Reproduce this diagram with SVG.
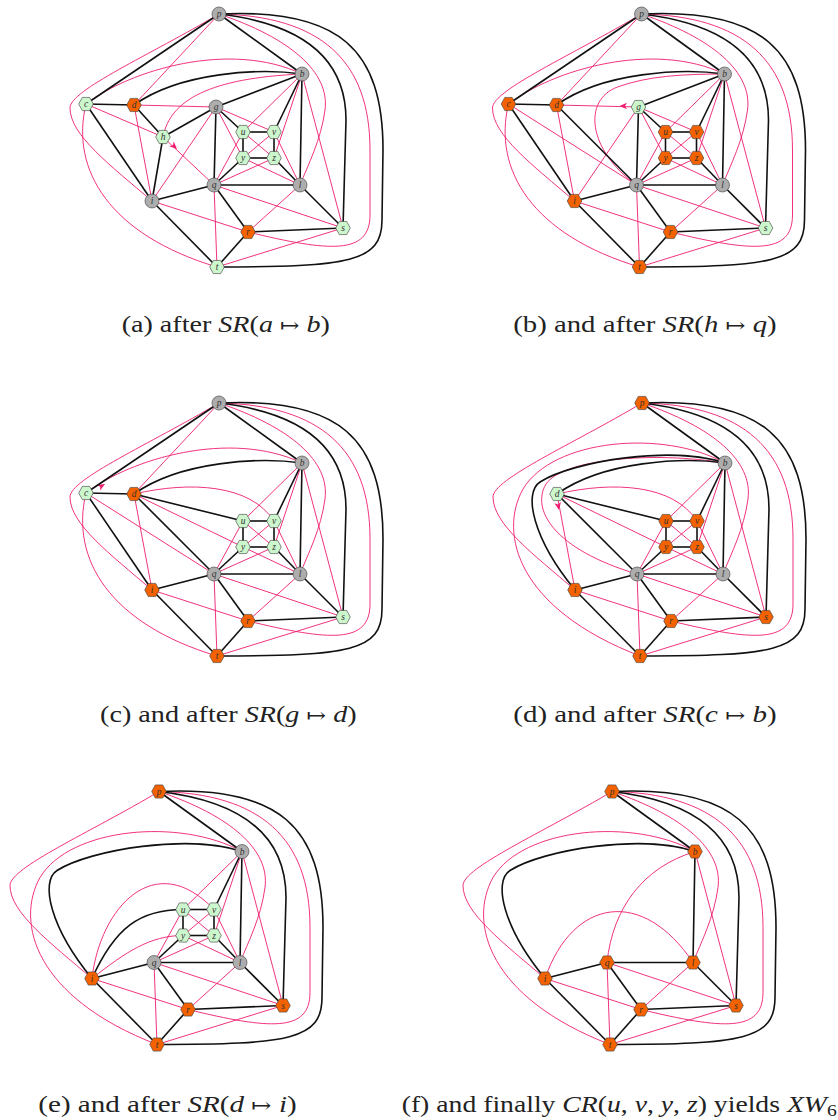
<svg xmlns="http://www.w3.org/2000/svg" xmlns:xlink="http://www.w3.org/1999/xlink" width="838" height="1120" viewBox="0 0 838 1120">
<style>
.k{fill:none;stroke:#111;stroke-width:1.6}
.m{fill:none;stroke:#ef1c6f;stroke-width:0.9}
.gr{fill:#adadad;stroke:#3a3a3a;stroke-width:0.6}
.gn{fill:#ccf6cc;stroke:#3a3a3a;stroke-width:0.6}
.or{fill:#f46200;stroke:#3a3a3a;stroke-width:0.6}
.lb{font-family:"Liberation Serif",serif;font-style:italic;font-size:9.5px;fill:#333;text-anchor:middle}
.ah{fill:#ef1c6f}
.cap{font-family:"Liberation Serif",serif;font-size:24px;fill:#222}
.it{font-style:italic}
.sy{font-family:"DejaVu Serif",serif;font-size:20px}
</style>
<defs>
<polygon id="hx" points="-7.3,0 -3.7,-6.6 3.7,-6.6 7.3,0 3.7,6.6 -3.7,6.6"/>
<path id="ar" d="M0,0L-7.5,-3.3L-5.5,0L-7.5,3.3Z"/>
</defs>
<rect width="838" height="1120" fill="#fff"/>

<!-- Panel (a) -->
<g id="panel-a">
<g id="a-edges">
<path class="m" d="M219,14L134,105"/>
<path class="m" d="M219,14C150,55 70,90 70,108C70,135 110,165 152,201"/>
<path class="m" d="M219,14C320,16 370,60 370,150L370,215C370,255 330,252 248,232"/>
<path class="m" d="M219,14C290,38 330,72 325,110C321,140 308,165 300,185"/>
<path class="m" d="M86,104C130,70 230,40 302,74"/>
<path class="m" d="M86,104L163,137"/>
<path class="m" d="M86,104C70,170 110,235 217,267"/>
<path class="m" d="M163,137C170,100 210,78 302,74"/>
<path class="m" d="M163,137L214,185"/>
<path class="m" d="M134,105L216,107"/>
<path class="m" d="M134,105L152,201"/>
<path class="m" d="M216,107L152,201"/>
<path class="m" d="M216,107L274,132"/>
<path class="m" d="M216,107L243,158"/>
<path class="m" d="M302,74L243,132"/>
<path class="m" d="M302,74L274,158"/>
<path class="m" d="M302,74L343,228"/>
<path class="m" d="M243,132L274,158"/>
<path class="m" d="M274,132L243,158"/>
<path class="m" d="M243,158L300,185"/>
<path class="m" d="M274,132L300,185"/>
<path class="m" d="M243,132L214,185"/>
<path class="m" d="M274,158L214,185"/>
<path class="m" d="M214,185L343,228"/>
<path class="m" d="M214,185L217,267"/>
<path class="m" d="M152,201L248,232"/>
<path class="m" d="M300,185L248,232"/>
<path class="m" d="M217,267L343,228"/>
<use xlink:href="#ar" href="#ar" class="ah" transform="translate(177,149) rotate(43)"/>
<path class="k" d="M219,14L86,104"/>
<path class="k" d="M219,14L302,74"/>
<path class="k" d="M219,14C305,24 346,60 346,120L343,228"/>
<path class="k" d="M219,14C340,8 383,50 383,150L382,220C382,262 350,267 217,267"/>
<path class="k" d="M302,74C260,68 180,72 134,105"/>
<path class="k" d="M302,74L216,107"/>
<path class="k" d="M302,74L274,132"/>
<path class="k" d="M302,74L300,185"/>
<path class="k" d="M86,104L134,105"/>
<path class="k" d="M86,104L152,201"/>
<path class="k" d="M134,105L163,137"/>
<path class="k" d="M216,107L163,137"/>
<path class="k" d="M163,137L152,201"/>
<path class="k" d="M216,107L214,185"/>
<path class="k" d="M216,107L243,132"/>
<path class="k" d="M243,132L274,132"/>
<path class="k" d="M243,132L243,158"/>
<path class="k" d="M274,132L274,158"/>
<path class="k" d="M243,158L274,158"/>
<path class="k" d="M243,158L214,185"/>
<path class="k" d="M274,158L300,185"/>
<path class="k" d="M214,185L300,185"/>
<path class="k" d="M214,185L152,201"/>
<path class="k" d="M214,185L248,232"/>
<path class="k" d="M152,201L217,267"/>
<path class="k" d="M248,232L217,267"/>
<path class="k" d="M248,232L343,228"/>
<path class="k" d="M300,185L343,228"/>
</g>
<g id="a-p"><circle class="gr" cx="219" cy="14" r="7"/><text class="lb" x="219" y="17">p</text></g>
<g id="a-b"><circle class="gr" cx="302" cy="74" r="7"/><text class="lb" x="302" y="77">b</text></g>
<g id="a-c"><use href="#hx" xlink:href="#hx" class="gn" x="86" y="104"/><text class="lb" x="86" y="107">c</text></g>
<g id="a-d"><use href="#hx" xlink:href="#hx" class="or" x="134" y="105"/><text class="lb" x="134" y="108">d</text></g>
<g id="a-g"><circle class="gr" cx="216" cy="107" r="7"/><text class="lb" x="216" y="110">g</text></g>
<g id="a-h"><use href="#hx" xlink:href="#hx" class="gn" x="163" y="137"/><text class="lb" x="163" y="140">h</text></g>
<g id="a-u"><use href="#hx" xlink:href="#hx" class="gn" x="243" y="132"/><text class="lb" x="243" y="135">u</text></g>
<g id="a-v"><use href="#hx" xlink:href="#hx" class="gn" x="274" y="132"/><text class="lb" x="274" y="135">v</text></g>
<g id="a-y"><use href="#hx" xlink:href="#hx" class="gn" x="243" y="158"/><text class="lb" x="243" y="161">y</text></g>
<g id="a-z"><use href="#hx" xlink:href="#hx" class="gn" x="274" y="158"/><text class="lb" x="274" y="161">z</text></g>
<g id="a-q"><circle class="gr" cx="214" cy="185" r="7"/><text class="lb" x="214" y="188">q</text></g>
<g id="a-l"><circle class="gr" cx="300" cy="185" r="7"/><text class="lb" x="300" y="188">l</text></g>
<g id="a-i"><circle class="gr" cx="152" cy="201" r="7"/><text class="lb" x="152" y="204">i</text></g>
<g id="a-r"><use href="#hx" xlink:href="#hx" class="or" x="248" y="232"/><text class="lb" x="248" y="235">r</text></g>
<g id="a-s"><use href="#hx" xlink:href="#hx" class="gn" x="343" y="228"/><text class="lb" x="343" y="231">s</text></g>
<g id="a-t"><use href="#hx" xlink:href="#hx" class="gn" x="217" y="267"/><text class="lb" x="217" y="270">t</text></g>
</g>

<!-- Panel (b) -->
<g id="panel-b" transform="translate(422.5,0)">
<g id="b-edges">
<path class="m" d="M219,14L134,105"/>
<path class="m" d="M219,14C150,55 70,90 70,108C70,135 110,165 152,201"/>
<path class="m" d="M219,14C320,16 370,60 370,150L370,215C370,255 330,252 248,232"/>
<path class="m" d="M219,14C290,38 330,72 325,110C321,140 308,165 300,185"/>
<path class="m" d="M86,104C130,70 230,40 302,74"/>
<path class="m" d="M86,104L214,185"/>
<path class="m" d="M86,104C70,170 110,235 217,267"/>
<path class="m" d="M214,185C165,150 160,100 195,87C225,76 260,74 302,74"/>
<path class="m" d="M134,105L216,107"/>
<path class="m" d="M134,105L152,201"/>
<path class="m" d="M216,107L152,201"/>
<path class="m" d="M216,107L274,132"/>
<path class="m" d="M216,107L243,158"/>
<path class="m" d="M302,74L243,132"/>
<path class="m" d="M302,74L274,158"/>
<path class="m" d="M302,74L343,228"/>
<path class="m" d="M243,132L274,158"/>
<path class="m" d="M274,132L243,158"/>
<path class="m" d="M243,158L300,185"/>
<path class="m" d="M274,132L300,185"/>
<path class="m" d="M243,132L214,185"/>
<path class="m" d="M274,158L214,185"/>
<path class="m" d="M214,185L343,228"/>
<path class="m" d="M214,185L217,267"/>
<path class="m" d="M152,201L248,232"/>
<path class="m" d="M300,185L248,232"/>
<path class="m" d="M217,267L343,228"/>
<use href="#ar" xlink:href="#ar" class="ah" transform="translate(197,106) rotate(180)"/>
<path class="k" d="M219,14L86,104"/>
<path class="k" d="M219,14L302,74"/>
<path class="k" d="M219,14C305,24 346,60 346,120L343,228"/>
<path class="k" d="M219,14C340,8 383,50 383,150L382,220C382,262 350,267 217,267"/>
<path class="k" d="M302,74C260,68 180,72 134,105"/>
<path class="k" d="M302,74L216,107"/>
<path class="k" d="M302,74L274,132"/>
<path class="k" d="M302,74L300,185"/>
<path class="k" d="M86,104L134,105"/>
<path class="k" d="M86,104L152,201"/>
<path class="k" d="M134,105L214,185"/>
<path class="k" d="M216,107L214,185"/>
<path class="k" d="M216,107L243,132"/>
<path class="k" d="M243,132L274,132"/>
<path class="k" d="M243,132L243,158"/>
<path class="k" d="M274,132L274,158"/>
<path class="k" d="M243,158L274,158"/>
<path class="k" d="M243,158L214,185"/>
<path class="k" d="M274,158L300,185"/>
<path class="k" d="M214,185L300,185"/>
<path class="k" d="M214,185L152,201"/>
<path class="k" d="M214,185L248,232"/>
<path class="k" d="M152,201L217,267"/>
<path class="k" d="M248,232L217,267"/>
<path class="k" d="M248,232L343,228"/>
<path class="k" d="M300,185L343,228"/>
</g>
<g id="b-p"><circle class="gr" cx="219" cy="14" r="7"/><text class="lb" x="219" y="17">p</text></g>
<g id="b-b"><circle class="gr" cx="302" cy="74" r="7"/><text class="lb" x="302" y="77">b</text></g>
<g id="b-c"><use href="#hx" xlink:href="#hx" class="or" x="86" y="104"/><text class="lb" x="86" y="107">c</text></g>
<g id="b-d"><use href="#hx" xlink:href="#hx" class="or" x="134" y="105"/><text class="lb" x="134" y="108">d</text></g>
<g id="b-g"><use href="#hx" xlink:href="#hx" class="gn" x="216" y="107"/><text class="lb" x="216" y="110">g</text></g>
<g id="b-u"><use href="#hx" xlink:href="#hx" class="or" x="243" y="132"/><text class="lb" x="243" y="135">u</text></g>
<g id="b-v"><use href="#hx" xlink:href="#hx" class="or" x="274" y="132"/><text class="lb" x="274" y="135">v</text></g>
<g id="b-y"><use href="#hx" xlink:href="#hx" class="or" x="243" y="158"/><text class="lb" x="243" y="161">y</text></g>
<g id="b-z"><use href="#hx" xlink:href="#hx" class="or" x="274" y="158"/><text class="lb" x="274" y="161">z</text></g>
<g id="b-q"><circle class="gr" cx="214" cy="185" r="7"/><text class="lb" x="214" y="188">q</text></g>
<g id="b-l"><circle class="gr" cx="300" cy="185" r="7"/><text class="lb" x="300" y="188">l</text></g>
<g id="b-i"><use href="#hx" xlink:href="#hx" class="or" x="152" y="201"/><text class="lb" x="152" y="204">i</text></g>
<g id="b-r"><use href="#hx" xlink:href="#hx" class="or" x="248" y="232"/><text class="lb" x="248" y="235">r</text></g>
<g id="b-s"><use href="#hx" xlink:href="#hx" class="gn" x="343" y="228"/><text class="lb" x="343" y="231">s</text></g>
<g id="b-t"><use href="#hx" xlink:href="#hx" class="or" x="217" y="267"/><text class="lb" x="217" y="270">t</text></g>
</g>

<!-- Panel (c) -->
<g id="panel-c" transform="translate(0,389)">
<g id="c-edges">
<path class="m" d="M219,14L134,105"/>
<path class="m" d="M219,14C150,55 70,90 70,108C70,135 110,165 152,201"/>
<path class="m" d="M219,14C320,16 370,60 370,150L370,215C370,255 330,252 248,232"/>
<path class="m" d="M219,14C290,38 330,72 325,110C321,140 308,165 300,185"/>
<path class="m" d="M86,104C130,70 230,40 302,74"/>
<path class="m" d="M86,104L214,185"/>
<path class="m" d="M86,104C70,170 110,235 217,267"/>
<path class="m" d="M134,105L152,201"/>
<path class="m" d="M134,105C190,92 250,95 274,132"/>
<path class="m" d="M134,105L243,158"/>
<path class="m" d="M302,74L243,132"/>
<path class="m" d="M302,74L274,158"/>
<path class="m" d="M302,74L343,228"/>
<path class="m" d="M243,132L274,158"/>
<path class="m" d="M274,132L243,158"/>
<path class="m" d="M243,158L300,185"/>
<path class="m" d="M274,132L300,185"/>
<path class="m" d="M243,132L214,185"/>
<path class="m" d="M274,158L214,185"/>
<path class="m" d="M214,185L343,228"/>
<path class="m" d="M214,185L217,267"/>
<path class="m" d="M152,201L248,232"/>
<path class="m" d="M300,185L248,232"/>
<path class="m" d="M217,267L343,228"/>
<use href="#ar" xlink:href="#ar" class="ah" transform="translate(105,95) rotate(-30)"/>
<path class="k" d="M219,14L86,104"/>
<path class="k" d="M219,14L302,74"/>
<path class="k" d="M219,14C305,24 346,60 346,120L343,228"/>
<path class="k" d="M219,14C340,8 383,50 383,150L382,220C382,262 350,267 217,267"/>
<path class="k" d="M302,74C260,68 180,72 134,105"/>
<path class="k" d="M302,74L274,132"/>
<path class="k" d="M302,74L300,185"/>
<path class="k" d="M86,104L134,105"/>
<path class="k" d="M86,104L152,201"/>
<path class="k" d="M134,105L214,185"/>
<path class="k" d="M134,105L243,132"/>
<path class="k" d="M243,132L274,132"/>
<path class="k" d="M243,132L243,158"/>
<path class="k" d="M274,132L274,158"/>
<path class="k" d="M243,158L274,158"/>
<path class="k" d="M243,158L214,185"/>
<path class="k" d="M274,158L300,185"/>
<path class="k" d="M214,185L300,185"/>
<path class="k" d="M214,185L152,201"/>
<path class="k" d="M214,185L248,232"/>
<path class="k" d="M152,201L217,267"/>
<path class="k" d="M248,232L217,267"/>
<path class="k" d="M248,232L343,228"/>
<path class="k" d="M300,185L343,228"/>
</g>
<g id="c-p"><circle class="gr" cx="219" cy="14" r="7"/><text class="lb" x="219" y="17">p</text></g>
<g id="c-b"><circle class="gr" cx="302" cy="74" r="7"/><text class="lb" x="302" y="77">b</text></g>
<g id="c-c"><use href="#hx" xlink:href="#hx" class="gn" x="86" y="104"/><text class="lb" x="86" y="107">c</text></g>
<g id="c-d"><use href="#hx" xlink:href="#hx" class="or" x="134" y="105"/><text class="lb" x="134" y="108">d</text></g>
<g id="c-u"><use href="#hx" xlink:href="#hx" class="gn" x="243" y="132"/><text class="lb" x="243" y="135">u</text></g>
<g id="c-v"><use href="#hx" xlink:href="#hx" class="gn" x="274" y="132"/><text class="lb" x="274" y="135">v</text></g>
<g id="c-y"><use href="#hx" xlink:href="#hx" class="gn" x="243" y="158"/><text class="lb" x="243" y="161">y</text></g>
<g id="c-z"><use href="#hx" xlink:href="#hx" class="gn" x="274" y="158"/><text class="lb" x="274" y="161">z</text></g>
<g id="c-q"><circle class="gr" cx="214" cy="185" r="7"/><text class="lb" x="214" y="188">q</text></g>
<g id="c-l"><circle class="gr" cx="300" cy="185" r="7"/><text class="lb" x="300" y="188">l</text></g>
<g id="c-i"><use href="#hx" xlink:href="#hx" class="or" x="152" y="201"/><text class="lb" x="152" y="204">i</text></g>
<g id="c-r"><use href="#hx" xlink:href="#hx" class="or" x="248" y="232"/><text class="lb" x="248" y="235">r</text></g>
<g id="c-s"><use href="#hx" xlink:href="#hx" class="gn" x="343" y="228"/><text class="lb" x="343" y="231">s</text></g>
<g id="c-t"><use href="#hx" xlink:href="#hx" class="or" x="217" y="267"/><text class="lb" x="217" y="270">t</text></g>
</g>

<!-- Panel (d) -->
<g id="panel-d" transform="translate(423,389)">
<g id="d-edges">
<path class="m" d="M219,14C150,55 70,90 70,108C70,135 110,165 152,201"/>
<path class="m" d="M219,14C320,16 370,60 370,150L370,215C370,255 330,252 248,232"/>
<path class="m" d="M219,14C290,38 330,72 325,110C321,140 308,165 300,185"/>
<path class="m" d="M302,74C240,40 130,50 100,100C75,145 95,220 217,267"/>
<path class="m" d="M302,74C230,62 140,70 123,95C108,120 130,160 214,185"/>
<path class="m" d="M134,105L152,201"/>
<path class="m" d="M134,105C190,92 250,95 274,132"/>
<path class="m" d="M134,105L243,158"/>
<path class="m" d="M302,74L243,132"/>
<path class="m" d="M302,74L274,158"/>
<path class="m" d="M302,74L343,228"/>
<path class="m" d="M243,132L274,158"/>
<path class="m" d="M274,132L243,158"/>
<path class="m" d="M243,158L300,185"/>
<path class="m" d="M274,132L300,185"/>
<path class="m" d="M243,132L214,185"/>
<path class="m" d="M274,158L214,185"/>
<path class="m" d="M214,185L343,228"/>
<path class="m" d="M214,185L217,267"/>
<path class="m" d="M152,201L248,232"/>
<path class="m" d="M300,185L248,232"/>
<path class="m" d="M217,267L343,228"/>
<use href="#ar" xlink:href="#ar" class="ah" transform="translate(136,121) rotate(80)"/>
<path class="k" d="M219,14L302,74"/>
<path class="k" d="M219,14C305,24 346,60 346,120L343,228"/>
<path class="k" d="M219,14C340,8 383,50 383,150L382,220C382,262 350,267 217,267"/>
<path class="k" d="M302,74C260,68 180,72 134,105"/>
<path class="k" d="M302,74C250,56 150,72 117,93C100,104 110,150 152,201"/>
<path class="k" d="M302,74L274,132"/>
<path class="k" d="M302,74L300,185"/>
<path class="k" d="M134,105L214,185"/>
<path class="k" d="M134,105L243,132"/>
<path class="k" d="M243,132L274,132"/>
<path class="k" d="M243,132L243,158"/>
<path class="k" d="M274,132L274,158"/>
<path class="k" d="M243,158L274,158"/>
<path class="k" d="M243,158L214,185"/>
<path class="k" d="M274,158L300,185"/>
<path class="k" d="M214,185L300,185"/>
<path class="k" d="M214,185L152,201"/>
<path class="k" d="M214,185L248,232"/>
<path class="k" d="M152,201L217,267"/>
<path class="k" d="M248,232L217,267"/>
<path class="k" d="M248,232L343,228"/>
<path class="k" d="M300,185L343,228"/>
</g>
<g id="d-p"><use href="#hx" xlink:href="#hx" class="or" x="219" y="14"/><text class="lb" x="219" y="17">p</text></g>
<g id="d-b"><circle class="gr" cx="302" cy="74" r="7"/><text class="lb" x="302" y="77">b</text></g>
<g id="d-d"><use href="#hx" xlink:href="#hx" class="gn" x="134" y="105"/><text class="lb" x="134" y="108">d</text></g>
<g id="d-u"><use href="#hx" xlink:href="#hx" class="or" x="243" y="132"/><text class="lb" x="243" y="135">u</text></g>
<g id="d-v"><use href="#hx" xlink:href="#hx" class="or" x="274" y="132"/><text class="lb" x="274" y="135">v</text></g>
<g id="d-y"><use href="#hx" xlink:href="#hx" class="or" x="243" y="158"/><text class="lb" x="243" y="161">y</text></g>
<g id="d-z"><use href="#hx" xlink:href="#hx" class="or" x="274" y="158"/><text class="lb" x="274" y="161">z</text></g>
<g id="d-q"><circle class="gr" cx="214" cy="185" r="7"/><text class="lb" x="214" y="188">q</text></g>
<g id="d-l"><circle class="gr" cx="300" cy="185" r="7"/><text class="lb" x="300" y="188">l</text></g>
<g id="d-i"><use href="#hx" xlink:href="#hx" class="or" x="152" y="201"/><text class="lb" x="152" y="204">i</text></g>
<g id="d-r"><use href="#hx" xlink:href="#hx" class="or" x="248" y="232"/><text class="lb" x="248" y="235">r</text></g>
<g id="d-s"><use href="#hx" xlink:href="#hx" class="or" x="343" y="228"/><text class="lb" x="343" y="231">s</text></g>
<g id="d-t"><use href="#hx" xlink:href="#hx" class="or" x="217" y="267"/><text class="lb" x="217" y="270">t</text></g>
</g>

<!-- Panel (e) -->
<g id="panel-e" transform="translate(-60,777.5)">
<g id="e-edges">
<path class="m" d="M219,14C150,55 70,90 70,108C70,135 110,165 152,201"/>
<path class="m" d="M219,14C320,16 370,60 370,150L370,215C370,255 330,252 248,232"/>
<path class="m" d="M219,14C290,38 330,72 325,110C321,140 308,165 300,185"/>
<path class="m" d="M302,74C240,40 130,50 100,100C75,145 95,220 217,267"/>
<path class="m" d="M152,201C160,130 215,70 274,132"/>
<path class="m" d="M152,201C185,175 210,158 243,158"/>
<path class="m" d="M302,74L243,132"/>
<path class="m" d="M302,74L274,158"/>
<path class="m" d="M302,74L343,228"/>
<path class="m" d="M243,132L274,158"/>
<path class="m" d="M274,132L243,158"/>
<path class="m" d="M243,158L300,185"/>
<path class="m" d="M274,132L300,185"/>
<path class="m" d="M243,132L214,185"/>
<path class="m" d="M274,158L214,185"/>
<path class="m" d="M214,185L343,228"/>
<path class="m" d="M214,185L217,267"/>
<path class="m" d="M152,201L248,232"/>
<path class="m" d="M300,185L248,232"/>
<path class="m" d="M217,267L343,228"/>
<path class="k" d="M219,14L302,74"/>
<path class="k" d="M219,14C305,24 346,60 346,120L343,228"/>
<path class="k" d="M219,14C340,8 383,50 383,150L382,220C382,262 350,267 217,267"/>
<path class="k" d="M302,74C250,56 150,72 117,93C100,104 110,150 152,201"/>
<path class="k" d="M302,74L274,132"/>
<path class="k" d="M302,74L300,185"/>
<path class="k" d="M152,201C175,150 200,132 243,132"/>
<path class="k" d="M243,132L274,132"/>
<path class="k" d="M243,132L243,158"/>
<path class="k" d="M274,132L274,158"/>
<path class="k" d="M243,158L274,158"/>
<path class="k" d="M243,158L214,185"/>
<path class="k" d="M274,158L300,185"/>
<path class="k" d="M214,185L300,185"/>
<path class="k" d="M214,185L152,201"/>
<path class="k" d="M214,185L248,232"/>
<path class="k" d="M152,201L217,267"/>
<path class="k" d="M248,232L217,267"/>
<path class="k" d="M248,232L343,228"/>
<path class="k" d="M300,185L343,228"/>
</g>
<g id="e-p"><use href="#hx" xlink:href="#hx" class="or" x="219" y="14"/><text class="lb" x="219" y="17">p</text></g>
<g id="e-b"><circle class="gr" cx="302" cy="74" r="7"/><text class="lb" x="302" y="77">b</text></g>
<g id="e-u"><use href="#hx" xlink:href="#hx" class="gn" x="243" y="132"/><text class="lb" x="243" y="135">u</text></g>
<g id="e-v"><use href="#hx" xlink:href="#hx" class="gn" x="274" y="132"/><text class="lb" x="274" y="135">v</text></g>
<g id="e-y"><use href="#hx" xlink:href="#hx" class="gn" x="243" y="158"/><text class="lb" x="243" y="161">y</text></g>
<g id="e-z"><use href="#hx" xlink:href="#hx" class="gn" x="274" y="158"/><text class="lb" x="274" y="161">z</text></g>
<g id="e-q"><circle class="gr" cx="214" cy="185" r="7"/><text class="lb" x="214" y="188">q</text></g>
<g id="e-l"><circle class="gr" cx="300" cy="185" r="7"/><text class="lb" x="300" y="188">l</text></g>
<g id="e-i"><use href="#hx" xlink:href="#hx" class="or" x="152" y="201"/><text class="lb" x="152" y="204">i</text></g>
<g id="e-r"><use href="#hx" xlink:href="#hx" class="or" x="248" y="232"/><text class="lb" x="248" y="235">r</text></g>
<g id="e-s"><use href="#hx" xlink:href="#hx" class="or" x="343" y="228"/><text class="lb" x="343" y="231">s</text></g>
<g id="e-t"><use href="#hx" xlink:href="#hx" class="or" x="217" y="267"/><text class="lb" x="217" y="270">t</text></g>
</g>

<!-- Panel (f) -->
<g id="panel-f" transform="translate(393,777.5)">
<g id="f-edges">
<path class="m" d="M219,14C150,55 70,90 70,108C70,135 110,165 152,201"/>
<path class="m" d="M219,14C320,16 370,60 370,150L370,215C370,255 330,252 248,232"/>
<path class="m" d="M219,14C290,38 330,72 325,110C321,140 308,165 300,185"/>
<path class="m" d="M302,74C240,40 130,50 100,100C75,145 95,220 217,267"/>
<path class="m" d="M302,74C250,90 220,130 214,185"/>
<path class="m" d="M152,201C180,120 250,110 300,185"/>
<path class="m" d="M302,74L343,228"/>
<path class="m" d="M214,185L343,228"/>
<path class="m" d="M214,185L217,267"/>
<path class="m" d="M152,201L248,232"/>
<path class="m" d="M300,185L248,232"/>
<path class="m" d="M217,267L343,228"/>
<path class="k" d="M219,14L302,74"/>
<path class="k" d="M219,14C305,24 346,60 346,120L343,228"/>
<path class="k" d="M219,14C340,8 383,50 383,150L382,220C382,262 350,267 217,267"/>
<path class="k" d="M302,74C250,56 150,72 117,93C100,104 110,150 152,201"/>
<path class="k" d="M302,74L300,185"/>
<path class="k" d="M214,185L300,185"/>
<path class="k" d="M214,185L152,201"/>
<path class="k" d="M214,185L248,232"/>
<path class="k" d="M152,201L217,267"/>
<path class="k" d="M248,232L217,267"/>
<path class="k" d="M248,232L343,228"/>
<path class="k" d="M300,185L343,228"/>
</g>
<g id="f-p"><use href="#hx" xlink:href="#hx" class="or" x="219" y="14"/><text class="lb" x="219" y="17">p</text></g>
<g id="f-b"><use href="#hx" xlink:href="#hx" class="or" x="302" y="74"/><text class="lb" x="302" y="77">b</text></g>
<g id="f-q"><use href="#hx" xlink:href="#hx" class="or" x="214" y="185"/><text class="lb" x="214" y="188">q</text></g>
<g id="f-l"><use href="#hx" xlink:href="#hx" class="or" x="300" y="185"/><text class="lb" x="300" y="188">l</text></g>
<g id="f-i"><use href="#hx" xlink:href="#hx" class="or" x="152" y="201"/><text class="lb" x="152" y="204">i</text></g>
<g id="f-r"><use href="#hx" xlink:href="#hx" class="or" x="248" y="232"/><text class="lb" x="248" y="235">r</text></g>
<g id="f-s"><use href="#hx" xlink:href="#hx" class="or" x="343" y="228"/><text class="lb" x="343" y="231">s</text></g>
<g id="f-t"><use href="#hx" xlink:href="#hx" class="or" x="217" y="267"/><text class="lb" x="217" y="270">t</text></g>
</g>

<!-- Captions -->
<g id="captions">
<text class="cap" x="121.7" y="332" textLength="208.3" lengthAdjust="spacingAndGlyphs">(a) after <tspan class="it">SR</tspan>(<tspan class="it">a</tspan> <tspan class="sy">↦</tspan> <tspan class="it">b</tspan>)</text>
<text class="cap" x="513.3" y="332" textLength="263.4" lengthAdjust="spacingAndGlyphs">(b) and after <tspan class="it">SR</tspan>(<tspan class="it">h</tspan> <tspan class="sy">↦</tspan> <tspan class="it">q</tspan>)</text>
<text class="cap" x="100" y="721.7" textLength="256.7" lengthAdjust="spacingAndGlyphs">(c) and after <tspan class="it">SR</tspan>(<tspan class="it">g</tspan> <tspan class="sy">↦</tspan> <tspan class="it">d</tspan>)</text>
<text class="cap" x="513.3" y="721.7" textLength="263.4" lengthAdjust="spacingAndGlyphs">(d) and after <tspan class="it">SR</tspan>(<tspan class="it">c</tspan> <tspan class="sy">↦</tspan> <tspan class="it">b</tspan>)</text>
<text class="cap" x="38.3" y="1111.7" textLength="258.4" lengthAdjust="spacingAndGlyphs">(e) and after <tspan class="it">SR</tspan>(<tspan class="it">d</tspan> <tspan class="sy">↦</tspan> <tspan class="it">i</tspan>)</text>
<text class="cap" x="401.7" y="1111.7" textLength="435" lengthAdjust="spacingAndGlyphs">(f) and finally <tspan class="it">CR</tspan>(<tspan class="it">u</tspan>, <tspan class="it">v</tspan>, <tspan class="it">y</tspan>, <tspan class="it">z</tspan>) yields <tspan class="it">XW</tspan><tspan font-size="17" dy="4">6</tspan></text>
</g>
</svg>
